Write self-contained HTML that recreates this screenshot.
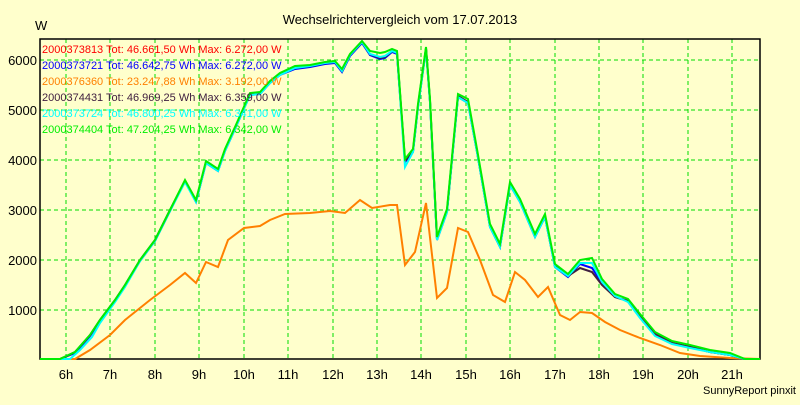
<!DOCTYPE html>
<html><head><meta charset="utf-8"><style>
html,body{margin:0;padding:0;background:#ffffcc;}
svg text{font-family:"Liberation Sans",sans-serif;}
</style></head><body>
<svg width="800" height="400" xmlns="http://www.w3.org/2000/svg">
<rect width="800" height="400" fill="#ffffcc"/>
<text x="400" y="24" font-size="13" text-anchor="middle" fill="#000">Wechselrichtervergleich vom 17.07.2013</text>
<text x="35" y="30" font-size="13" fill="#000">W</text>
<g stroke="#00dd00" stroke-width="1" stroke-dasharray="4,3">
<line x1="40" y1="60" x2="760" y2="60"/><line x1="40" y1="110" x2="760" y2="110"/><line x1="40" y1="160" x2="760" y2="160"/><line x1="40" y1="210" x2="760" y2="210"/><line x1="40" y1="260" x2="760" y2="260"/><line x1="40" y1="310" x2="760" y2="310"/>
<line x1="66" y1="39" x2="66" y2="359"/><line x1="110" y1="39" x2="110" y2="359"/><line x1="155" y1="39" x2="155" y2="359"/><line x1="199" y1="39" x2="199" y2="359"/><line x1="244" y1="39" x2="244" y2="359"/><line x1="288" y1="39" x2="288" y2="359"/><line x1="333" y1="39" x2="333" y2="359"/><line x1="377" y1="39" x2="377" y2="359"/><line x1="421" y1="39" x2="421" y2="359"/><line x1="466" y1="39" x2="466" y2="359"/><line x1="510" y1="39" x2="510" y2="359"/><line x1="555" y1="39" x2="555" y2="359"/><line x1="599" y1="39" x2="599" y2="359"/><line x1="643" y1="39" x2="643" y2="359"/><line x1="688" y1="39" x2="688" y2="359"/><line x1="732" y1="39" x2="732" y2="359"/>
</g>
<rect x="40" y="39" width="720" height="320" fill="none" stroke="#000" stroke-width="1.5"/>
<g font-size="13" fill="#000" text-anchor="end">
<text x="37" y="65">6000</text><text x="37" y="115">5000</text><text x="37" y="165">4000</text><text x="37" y="215">3000</text><text x="37" y="265">2000</text><text x="37" y="315">1000</text>
</g>
<g font-size="13" fill="#000" text-anchor="middle">
<text x="66" y="379">6h</text><text x="110" y="379">7h</text><text x="155" y="379">8h</text><text x="199" y="379">9h</text><text x="244" y="379">10h</text><text x="288" y="379">11h</text><text x="333" y="379">12h</text><text x="377" y="379">13h</text><text x="421" y="379">14h</text><text x="466" y="379">15h</text><text x="510" y="379">16h</text><text x="555" y="379">17h</text><text x="599" y="379">18h</text><text x="643" y="379">19h</text><text x="688" y="379">20h</text><text x="732" y="379">21h</text>
</g>
<text x="796" y="394" font-size="11" text-anchor="end" fill="#000">SunnyReport pinxit</text>
<polyline fill="none" stroke="#ff8000" stroke-width="2" points="40,359 75,359 90,350 110,335 125,320 150,300 170,285 185,273 196,283 206,262 218,267 228,240 244,228 260,226 270,220 285,214 310,213 330,211 345,213 360,200 372,208 390,205 397,205 405,265 415,252 426,203 437,298 447,288 458,228 468,232 480,260 493,295 505,302 515,272 525,280 538,297 548,287 560,315 570,320 580,312 592,313 605,322 620,330 640,338 660,345 680,353 700,356 730,358 760,359"/>
<g fill="none" stroke-width="2">
<polyline stroke="#0000ff" points="40,359 60,359 75,353 90,336 100,321 115,301 125,286 140,261 155,241 170,211 185,181 196,202 206,163 218,171 225,151 235,129 250,95 260,94 270,83 280,75 295,69 310,67 325,64 335,63 342,72 350,56 362,43 370,55 380,59 385,58 392,52 397,54 405,162 413,152 418,107 426,49 430,102 437,240 447,212 458,97 468,103 477,152 490,227 500,247 510,185 520,202 535,237 545,217 555,267 568,277 580,264 592,268 602,283 615,297 628,301 640,316 655,334 672,343 690,347 710,352 730,355 745,359 760,359"/>
<polyline stroke="#402040" points="40,359 60,359 75,352 90,335 100,320 115,300 125,285 140,260 155,240 170,210 185,181 196,201 206,162 218,170 225,150 235,128 250,94 260,93 270,82 280,74 295,68 310,66 325,63 335,62 342,71 350,55 362,42 370,54 380,58 385,57 392,51 397,53 405,161 413,151 418,106 426,48 430,101 437,239 447,211 458,96 468,102 477,151 490,226 500,246 510,184 520,201 535,236 545,216 555,266 568,276 580,268 592,272 602,285 615,297 628,301 640,316 655,334 672,343 690,347 710,352 730,355 745,359 760,359"/>
<polyline stroke="#00ffff" points="40,359 70,359 80,350 92,337 100,323 115,302 125,287 140,261 155,241 170,211 185,182 196,202 206,163 218,171 225,151 235,129 250,95 260,94 270,83 280,75 295,68 310,66 325,63 335,62 342,71 350,55 362,42 370,54 380,57 385,56 392,51 397,53 405,167 413,152 418,107 426,50 430,102 437,240 447,212 458,97 468,103 477,152 490,227 500,247 510,185 520,202 535,237 545,217 555,267 568,276 580,263 592,263 602,282 615,296 628,302 640,318 655,336 672,344 690,348 710,352 730,355 745,359 760,359"/>
<polyline stroke="#00ee00" points="40,359 60,359 75,352 90,335 100,320 115,300 125,285 140,260 155,240 170,210 185,180 196,200 206,161 218,169 225,149 235,127 250,93 260,92 270,81 280,73 295,66 310,65 325,62 335,61 342,69 350,54 362,41 370,51 380,53 385,52 392,49 397,51 405,159 413,149 418,104 426,47 430,99 437,237 447,209 458,94 468,99 477,149 490,224 500,244 510,182 520,199 535,234 545,214 555,264 568,274 580,260 592,258 602,279 615,294 628,299 640,314 655,332 672,341 690,345 710,350 730,353 745,359 760,359"/>
</g>
<g font-size="11">
<text x="42" y="53" fill="#ff0000">2000373813 Tot: 46.661,50 Wh Max: 6.272,00 W</text>
<text x="42" y="69" fill="#0000ff">2000373721 Tot: 46.642,75 Wh Max: 6.272,00 W</text>
<text x="42" y="85" fill="#ff8000">2000376360 Tot: 23.247,88 Wh Max: 3.192,00 W</text>
<text x="42" y="101" fill="#402040">2000374431 Tot: 46.969,25 Wh Max: 6.359,00 W</text>
<text x="42" y="117" fill="#00ffff">2000373724 Tot: 46.800,25 Wh Max: 6.341,00 W</text>
<text x="42" y="133" fill="#00ee00">2000374404 Tot: 47.204,25 Wh Max: 6.342,00 W</text>
</g>
</svg>
</body></html>
